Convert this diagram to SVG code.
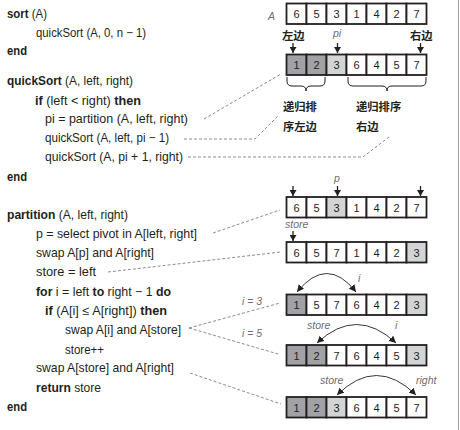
<svg xmlns="http://www.w3.org/2000/svg" width="460" height="430" viewBox="0 0 460 430">
<style>
.t{font-family:"Liberation Sans",Arial,sans-serif;font-size:12.4px;fill:#231f20}
.b{font-weight:bold}
.n{font-family:"Liberation Sans",Arial,sans-serif;font-size:11px;fill:#231f20;text-anchor:middle}
.it{font-family:"Liberation Sans",Arial,sans-serif;font-style:italic;font-size:10.5px;fill:#6d6e71}
.cn{font-family:"Liberation Sans","Noto Sans CJK SC",sans-serif;font-weight:bold;font-size:11.3px;fill:#231f20}
.cw{fill:#fff;stroke:#231f20;stroke-width:1.8}
.cd{fill:#a0a2a5;stroke:#231f20;stroke-width:1.8}
.cl{fill:#d3d4d6;stroke:#231f20;stroke-width:1.8}
.dash{fill:none;stroke:#6d6e71;stroke-width:0.8;stroke-dasharray:3 2}
.dn{stroke:#231f20;stroke-width:1.3;marker-end:url(#ah)}
.arc{fill:none;stroke:#231f20;stroke-width:0.9;marker-start:url(#ah2);marker-end:url(#ah2)}
.br{fill:none;stroke:#231f20;stroke-width:1}
</style>
<defs>
<marker id="ah" markerUnits="userSpaceOnUse" markerWidth="7" markerHeight="7" refX="6" refY="3.5" orient="auto"><path d="M0,0 L6,3.5 L0,7 z" fill="#231f20"/></marker>
<marker id="ah2" markerUnits="userSpaceOnUse" markerWidth="8" markerHeight="8" refX="7" refY="4" orient="auto-start-reverse"><path d="M0,0.5 L7,4 L0,7.5 z" fill="#231f20"/></marker>
</defs>

<line x1="458.5" y1="0" x2="458.5" y2="430" stroke="#a0a0a0" stroke-width="1"/>

<g id="code">
<text class="t" x="7" y="18" textLength="40" lengthAdjust="spacingAndGlyphs"><tspan class="b">sort</tspan> (A)</text>
<text class="t" x="36" y="37" textLength="110" lengthAdjust="spacingAndGlyphs">quickSort (A, 0, n − 1)</text>
<text class="t b" x="7" y="55" textLength="20" lengthAdjust="spacingAndGlyphs">end</text>
<text class="t" x="7" y="85" textLength="126" lengthAdjust="spacingAndGlyphs"><tspan class="b">quickSort</tspan> (A, left, right)</text>
<text class="t" x="35" y="104.5" textLength="106" lengthAdjust="spacingAndGlyphs"><tspan class="b">if</tspan> (left &lt; right) <tspan class="b">then</tspan></text>
<text class="t" x="45" y="123" textLength="143" lengthAdjust="spacingAndGlyphs">pi = partition (A, left, right)</text>
<text class="t" x="45" y="142" textLength="124" lengthAdjust="spacingAndGlyphs">quickSort (A, left, pi − 1)</text>
<text class="t" x="45" y="161" textLength="138" lengthAdjust="spacingAndGlyphs">quickSort (A, pi + 1, right)</text>
<text class="t b" x="7" y="181" textLength="20" lengthAdjust="spacingAndGlyphs">end</text>
<text class="t" x="7" y="219" textLength="121" lengthAdjust="spacingAndGlyphs"><tspan class="b">partition</tspan> (A, left, right)</text>
<text class="t" x="36" y="238" textLength="161" lengthAdjust="spacingAndGlyphs">p = select pivot in A[left, right]</text>
<text class="t" x="36" y="257" textLength="118" lengthAdjust="spacingAndGlyphs">swap A[p] and A[right]</text>
<text class="t" x="36" y="276" textLength="60" lengthAdjust="spacingAndGlyphs">store = left</text>
<text class="t" x="36" y="296" textLength="135" lengthAdjust="spacingAndGlyphs"><tspan class="b">for</tspan> i = left <tspan class="b">to</tspan> right − 1 <tspan class="b">do</tspan></text>
<text class="t" x="45" y="315" textLength="122" lengthAdjust="spacingAndGlyphs"><tspan class="b">if</tspan> (A[i] ≤ A[right]) <tspan class="b">then</tspan></text>
<text class="t" x="65" y="334" textLength="116" lengthAdjust="spacingAndGlyphs">swap A[i] and A[store]</text>
<text class="t" x="65" y="354" textLength="39" lengthAdjust="spacingAndGlyphs">store++</text>
<text class="t" x="36" y="372" textLength="138" lengthAdjust="spacingAndGlyphs">swap A[store] and A[right]</text>
<text class="t" x="36" y="392" textLength="65" lengthAdjust="spacingAndGlyphs"><tspan class="b">return</tspan> store</text>
<text class="t b" x="7" y="411" textLength="20" lengthAdjust="spacingAndGlyphs">end</text>
</g>

<g id="connectors">
<path class="dash" d="M204,119 L281,74"/>
<path class="dash" d="M184,139 L255,139 L278,116"/>
<path class="dash" d="M188,157 L363,157 L389,137"/>
<path class="dash" d="M213,233 L280,210"/>
<path class="dash" d="M108,272 L281,252"/>
<path class="dash" d="M189,328 L280,303"/>
<path class="dash" d="M189,328 L278,354"/>
<path class="dash" d="M190,373 L281,404"/>
</g>

<g id="array1">
<text class="it" x="268" y="20">A</text>
<rect class="cw" x="286.5" y="3.5" width="20" height="20.5"/>
<rect class="cw" x="306.5" y="3.5" width="20" height="20.5"/>
<rect class="cw" x="326.5" y="3.5" width="20" height="20.5"/>
<rect class="cw" x="346.5" y="3.5" width="20" height="20.5"/>
<rect class="cw" x="366.5" y="3.5" width="20" height="20.5"/>
<rect class="cw" x="386.5" y="3.5" width="20" height="20.5"/>
<rect class="cw" x="406.5" y="3.5" width="20" height="20.5"/>
<text class="n" y="18"><tspan x="296.5">6</tspan><tspan x="316.5">5</tspan><tspan x="336.5">3</tspan><tspan x="356.5">1</tspan><tspan x="376.5">4</tspan><tspan x="396.5">2</tspan><tspan x="416.5">7</tspan></text>
</g>

<g id="array2">
<text class="cn" x="282" y="40">左边</text>
<text class="it" x="333" y="37">pi</text>
<text class="cn" x="410" y="40">右边</text>
<line class="dn" x1="293" y1="43" x2="293" y2="53"/>
<line class="dn" x1="337.5" y1="43" x2="337.5" y2="53"/>
<line class="dn" x1="420.5" y1="43" x2="420.5" y2="53"/>
<rect class="cd" x="286.5" y="54.5" width="20" height="20.5"/>
<rect class="cd" x="306.5" y="54.5" width="20" height="20.5"/>
<rect class="cl" x="326.5" y="54.5" width="20" height="20.5"/>
<rect class="cw" x="346.5" y="54.5" width="20" height="20.5"/>
<rect class="cw" x="366.5" y="54.5" width="20" height="20.5"/>
<rect class="cw" x="386.5" y="54.5" width="20" height="20.5"/>
<rect class="cw" x="406.5" y="54.5" width="20" height="20.5"/>
<text class="n" y="69"><tspan x="296.5">1</tspan><tspan x="316.5">2</tspan><tspan x="336.5">3</tspan><tspan x="356.5">6</tspan><tspan x="376.5">4</tspan><tspan x="396.5">5</tspan><tspan x="416.5">7</tspan></text>
<path class="br" d="M287,77 v4 q0,5 5,5 h9 q5,0 5,5 q0,-5 5,-5 h9 q5,0 5,-5 v-4"/>
<path class="br" d="M348,77 v4 q0,5 5,5 h29 q5,0 5,5 q0,-5 5,-5 h29 q5,0 5,-5 v-4"/>
<text class="cn" x="283" y="111">递归排</text>
<text class="cn" x="283" y="131">序左边</text>
<text class="cn" x="356" y="111">递归排序</text>
<text class="cn" x="356" y="131">右边</text>
</g>

<g id="array3">
<text class="it" x="334" y="182">p</text>
<line class="dn" x1="293" y1="186" x2="293" y2="196"/>
<line class="dn" x1="337.5" y1="186" x2="337.5" y2="196"/>
<line class="dn" x1="420.5" y1="186" x2="420.5" y2="196"/>
<rect class="cw" x="286.5" y="197" width="20" height="20.5"/>
<rect class="cw" x="306.5" y="197" width="20" height="20.5"/>
<rect class="cl" x="326.5" y="197" width="20" height="20.5"/>
<rect class="cw" x="346.5" y="197" width="20" height="20.5"/>
<rect class="cw" x="366.5" y="197" width="20" height="20.5"/>
<rect class="cw" x="386.5" y="197" width="20" height="20.5"/>
<rect class="cw" x="406.5" y="197" width="20" height="20.5"/>
<text class="n" y="211.5"><tspan x="296.5">6</tspan><tspan x="316.5">5</tspan><tspan x="336.5">3</tspan><tspan x="356.5">1</tspan><tspan x="376.5">4</tspan><tspan x="396.5">2</tspan><tspan x="416.5">7</tspan></text>
</g>

<g id="array4">
<text class="it" x="285" y="228">store</text>
<line class="dn" x1="293" y1="231" x2="293" y2="241"/>
<rect class="cw" x="286.5" y="242" width="20" height="20.5"/>
<rect class="cw" x="306.5" y="242" width="20" height="20.5"/>
<rect class="cw" x="326.5" y="242" width="20" height="20.5"/>
<rect class="cw" x="346.5" y="242" width="20" height="20.5"/>
<rect class="cw" x="366.5" y="242" width="20" height="20.5"/>
<rect class="cw" x="386.5" y="242" width="20" height="20.5"/>
<rect class="cl" x="406.5" y="242" width="20" height="20.5"/>
<text class="n" y="256.5"><tspan x="296.5">6</tspan><tspan x="316.5">5</tspan><tspan x="336.5">7</tspan><tspan x="356.5">1</tspan><tspan x="376.5">4</tspan><tspan x="396.5">2</tspan><tspan x="416.5">3</tspan></text>
</g>

<g id="array5">
<text class="it" x="242" y="305">i = 3</text>
<text class="it" x="358" y="282">i</text>
<path class="arc" d="M297,292 Q327,255 356,292"/>
<rect class="cd" x="286.5" y="294.5" width="20" height="20.5"/>
<rect class="cw" x="306.5" y="294.5" width="20" height="20.5"/>
<rect class="cw" x="326.5" y="294.5" width="20" height="20.5"/>
<rect class="cw" x="346.5" y="294.5" width="20" height="20.5"/>
<rect class="cw" x="366.5" y="294.5" width="20" height="20.5"/>
<rect class="cw" x="386.5" y="294.5" width="20" height="20.5"/>
<rect class="cl" x="406.5" y="294.5" width="20" height="20.5"/>
<text class="n" y="309"><tspan x="296.5">1</tspan><tspan x="316.5">5</tspan><tspan x="336.5">7</tspan><tspan x="356.5">6</tspan><tspan x="376.5">4</tspan><tspan x="396.5">2</tspan><tspan x="416.5">3</tspan></text>
</g>

<g id="array6">
<text class="it" x="242" y="337">i = 5</text>
<text class="it" x="307" y="329">store</text>
<text class="it" x="395" y="329">i</text>
<path class="arc" d="M317,343 Q356.5,306 396,343"/>
<rect class="cd" x="286.5" y="345" width="20" height="20.5"/>
<rect class="cd" x="306.5" y="345" width="20" height="20.5"/>
<rect class="cw" x="326.5" y="345" width="20" height="20.5"/>
<rect class="cw" x="346.5" y="345" width="20" height="20.5"/>
<rect class="cw" x="366.5" y="345" width="20" height="20.5"/>
<rect class="cw" x="386.5" y="345" width="20" height="20.5"/>
<rect class="cl" x="406.5" y="345" width="20" height="20.5"/>
<text class="n" y="359.5"><tspan x="296.5">1</tspan><tspan x="316.5">2</tspan><tspan x="336.5">7</tspan><tspan x="356.5">6</tspan><tspan x="376.5">4</tspan><tspan x="396.5">5</tspan><tspan x="416.5">3</tspan></text>
</g>

<g id="array7">
<text class="it" x="320" y="384">store</text>
<text class="it" x="416" y="384">right</text>
<path class="arc" d="M337,395 Q376.5,356 416,395"/>
<rect class="cd" x="286.5" y="397" width="20" height="20.5"/>
<rect class="cd" x="306.5" y="397" width="20" height="20.5"/>
<rect class="cl" x="326.5" y="397" width="20" height="20.5"/>
<rect class="cw" x="346.5" y="397" width="20" height="20.5"/>
<rect class="cw" x="366.5" y="397" width="20" height="20.5"/>
<rect class="cw" x="386.5" y="397" width="20" height="20.5"/>
<rect class="cw" x="406.5" y="397" width="20" height="20.5"/>
<text class="n" y="411.5"><tspan x="296.5">1</tspan><tspan x="316.5">2</tspan><tspan x="336.5">3</tspan><tspan x="356.5">6</tspan><tspan x="376.5">4</tspan><tspan x="396.5">5</tspan><tspan x="416.5">7</tspan></text>
</g>
</svg>
